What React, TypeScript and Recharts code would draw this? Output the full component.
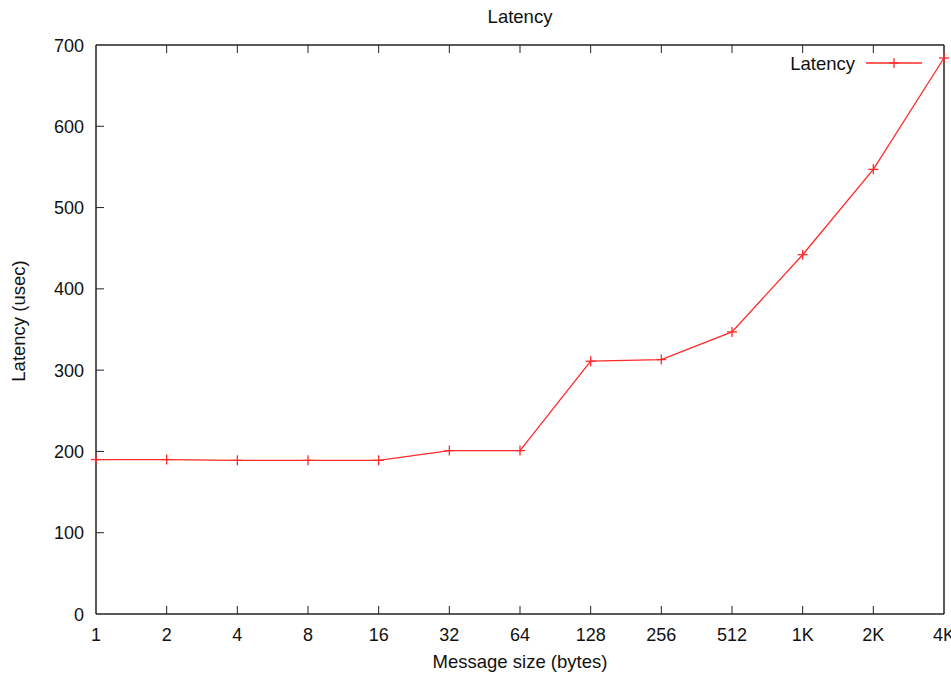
import React from 'react';
import { LineChart, Line, XAxis, YAxis } from 'recharts';

const sizes = ['1', '2', '4', '8', '16', '32', '64', '128', '256', '512', '1K', '2K', '4K'];
const latency = [190, 190, 189, 189, 189, 201, 201, 311, 313, 347, 442, 547, 684];
const yTicks = [0, 100, 200, 300, 400, 500, 600, 700];

const data = sizes.map((s, i) => ({ size: s, latency: latency[i] }));

const FONT = '"Liberation Sans", Arial, sans-serif';
const RED = '#ff2a2a';
const AXIS = '#222';
const TICK = 8;

const Plus = (props: any) => {
  const { cx, cy } = props;
  if (cx == null || cy == null) return null;
  return (
    <g>
      <line x1={cx - 5} x2={cx + 5} y1={cy} y2={cy} stroke={RED} strokeWidth={1.3} />
      <line x1={cx} x2={cx} y1={cy - 5} y2={cy + 5} stroke={RED} strokeWidth={1.3} />
    </g>
  );
};

const BottomTick = (props: any) => {
  const { x, y, payload, index } = props;
  const inner = index > 0 && index < sizes.length - 1;
  return (
    <g>
      {inner && <line x1={x} x2={x} y1={y} y2={y - TICK} stroke={AXIS} />}
      <text x={x} y={y + 26.5} textAnchor="middle" fontSize={18} fontFamily={FONT} fill="#111">{payload.value}</text>
    </g>
  );
};

const TopTick = (props: any) => {
  const { x, y, index } = props;
  if (index === 0 || index === sizes.length - 1) return null;
  return <line x1={x} x2={x} y1={y} y2={y + TICK} stroke={AXIS} />;
};

const LeftTick = (props: any) => {
  const { x, y, payload } = props;
  const inner = payload.value !== 0 && payload.value !== 700;
  return (
    <g>
      {inner && <line x1={x} x2={x + TICK} y1={y} y2={y} stroke={AXIS} />}
      <text x={x - 12} y={y + 6.5} textAnchor="end" fontSize={18} fontFamily={FONT} fill="#111">{payload.value}</text>
    </g>
  );
};

const RightTick = (props: any) => {
  const { x, y, payload } = props;
  if (payload.value === 0 || payload.value === 700) return null;
  return <line x1={x} x2={x - TICK} y1={y} y2={y} stroke={AXIS} />;
};

export default function App() {
  return (
    <div style={{ position: 'absolute', left: 0, top: 0, width: 951, height: 674, background: '#fff' }}>
      <LineChart width={951} height={674} data={data} margin={{ top: 44, right: 6, bottom: 59, left: 95 }}>
        <XAxis dataKey="size" xAxisId="bottom" height={1} tickSize={0} tickMargin={0} interval={0}
          axisLine={{ stroke: AXIS, strokeWidth: 1.5 }} tickLine={false} tick={<BottomTick />} />
        <XAxis dataKey="size" xAxisId="top" orientation="top" height={1} tickSize={0} tickMargin={0} interval={0}
          axisLine={{ stroke: AXIS, strokeWidth: 1.5 }} tickLine={false} tick={<TopTick />} />
        <YAxis yAxisId="left" width={1} domain={[0, 700]} ticks={yTicks} tickSize={0} tickMargin={0} interval={0}
          axisLine={{ stroke: AXIS, strokeWidth: 1.5 }} tickLine={false} tick={<LeftTick />} />
        <YAxis yAxisId="right" orientation="right" width={1} domain={[0, 700]} ticks={yTicks} tickSize={0} tickMargin={0} interval={0}
          axisLine={{ stroke: AXIS, strokeWidth: 1.5 }} tickLine={false} tick={<RightTick />} />
        <Line xAxisId="bottom" yAxisId="left" type="linear" dataKey="latency" name="Latency" stroke={RED}
          strokeWidth={1.3} dot={<Plus />} activeDot={false} isAnimationActive={false} />
      </LineChart>
      <svg width={951} height={674} style={{ position: 'absolute', left: 0, top: 0, pointerEvents: 'none' }}>
        <text x={520} y={23} textAnchor="middle" fontSize={18.5} fontFamily={FONT} fill="#111">Latency</text>
        <text x={520} y={668} textAnchor="middle" fontSize={18.5} fontFamily={FONT} fill="#111">Message size (bytes)</text>
        <text x={25} y={321} textAnchor="middle" fontSize={18.5} fontFamily={FONT} fill="#111"
          transform="rotate(-90 25 321)">Latency (usec)</text>
        <text x={855} y={69.5} textAnchor="end" fontSize={18.5} fontFamily={FONT} fill="#111">Latency</text>
        <line x1={866} x2={922} y1={63} y2={63} stroke={RED} strokeWidth={1.3} />
        <line x1={889} x2={899} y1={63} y2={63} stroke={RED} strokeWidth={1.3} />
        <line x1={894} x2={894} y1={58} y2={68} stroke={RED} strokeWidth={1.3} />
      </svg>
    </div>
  );
}
